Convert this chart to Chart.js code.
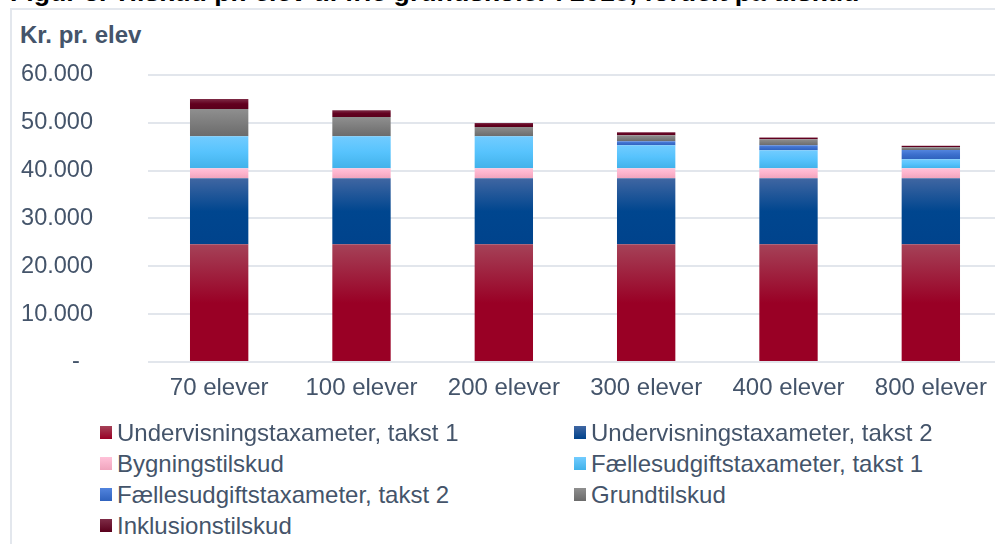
<!DOCTYPE html>
<html><head><meta charset="utf-8">
<script src="https://cdn.jsdelivr.net/npm/chart.js@4.4.1/dist/chart.umd.min.js"></script>
<style>
html,body{margin:0;padding:0;width:995px;height:544px;overflow:hidden;background:#fff;font-family:'Liberation Sans',Arial,sans-serif;}
#frame{position:absolute;left:10px;top:8px;width:1000px;height:600px;border-left:2px solid #e3e7ed;border-top:2px solid #e3e7ed;}
#title{position:absolute;left:10px;top:-21px;font-weight:bold;font-size:26.7px;line-height:26px;color:#000;white-space:nowrap;}
#ytitle{position:absolute;left:20px;top:23px;font-weight:bold;font-size:24px;line-height:24px;color:#44546a;white-space:nowrap;}
#wrap{position:absolute;left:0;top:0;width:1010px;height:431px;}
.leg{position:absolute;font-size:24px;line-height:24px;color:#44546a;white-space:nowrap;}
.leg i{position:absolute;left:-17px;top:5px;width:12px;height:13px;}
</style></head>
<body>
<div id="frame"></div>
<div id="title">Figur 3. Tilskud pr. elev til frie grundskoler i 2018, fordelt på tilskud</div>
<div id="ytitle">Kr. pr. elev</div>
<div id="wrap"><canvas id="c"></canvas></div>
<div id="legend"></div>
<script>
const categories = ['70 elever','100 elever','200 elever','300 elever','400 elever','800 elever'];
const seriesNames = ['Undervisningstaxameter, takst 1','Undervisningstaxameter, takst 2','Bygningstilskud','Fællesudgiftstaxameter, takst 1','Fællesudgiftstaxameter, takst 2','Grundtilskud','Inklusionstilskud'];
const undervisning1 = [24600,24600,24600,24600,24600,24600];
const undervisning2 = [13800,13800,13800,13800,13800,13800];
const bygning = [2100,2100,2100,2100,2100,2100];
const faelles1 = [6700,6700,6700,4800,3750,1900];
const faelles2 = [0,0,0,850,1050,1900];
const grund = [5700,4000,1950,1250,1250,600];
const inklusion = [2100,1450,800,650,400,300];
const yTicks = [0,10000,20000,30000,40000,50000,60000];

const seriesData = [undervisning1,undervisning2,bygning,faelles1,faelles2,grund,inklusion];
const palettes = [
  ['#a54258','#990025','#990025'],
  ['#4066a2','#00468f','#00438c'],
  ['#ffc2d9','#fdb3cc','#f0a4bd'],
  ['#72ccff','#57c3fd','#41b2ea'],
  ['#5284de','#3c6fcd','#2f62bd'],
  ['#8f8f8f','#7d7d7d','#6b6b6b'],
  ['#7e2c47','#62001f','#5a001c']
];

function grad(p){
  return function(ctx){
    if(ctx.type !== 'data') return p[1];
    const chart = ctx.chart;
    if(!chart.chartArea || !chart.scales.y) return p[1];
    const di = ctx.dataIndex, dsi = ctx.datasetIndex;
    let base = 0;
    for(let k=0;k<dsi;k++) base += chart.data.datasets[k].data[di];
    const v = chart.data.datasets[dsi].data[di];
    const top = chart.scales.y.getPixelForValue(base+v);
    const bot = chart.scales.y.getPixelForValue(base);
    if(!(bot-top>0.5)) return p[1];
    const g = chart.ctx.createLinearGradient(0,top,0,bot);
    g.addColorStop(0,p[0]); g.addColorStop(0.5,p[1]); g.addColorStop(1,p[2]);
    return g;
  };
}

function fmt(v){
  if(v===0) return '-\u2007';
  return String(v).replace(/\B(?=(\d{3})+(?!\d))/g,'.');
}

const datasets = seriesNames.map((n,i)=>({
  label:n, data:seriesData[i], backgroundColor:grad(palettes[i]), borderWidth:0,
  barPercentage:0.41, categoryPercentage:1
}));

new Chart(document.getElementById('c'),{
  type:'bar',
  data:{labels:categories,datasets},
  options:{
    responsive:true, maintainAspectRatio:false, animation:false,
    layout:{padding:{left:21,right:8,top:75,bottom:0}},
    plugins:{legend:{display:false},tooltip:{enabled:false}},
    scales:{
      x:{stacked:true,grid:{display:false,drawTicks:false},border:{display:false},
         afterFit:(s)=>{s.height=52;},
         ticks:{color:'#44546a',font:{family:"'Liberation Sans', Arial, sans-serif",size:24},padding:12,maxRotation:0}},
      y:{stacked:true,min:0,max:60000,
         afterBuildTicks:(s)=>{s.ticks=yTicks.map(v=>({value:v}));},
         afterFit:(s)=>{s.width=127;},
         grid:{color:'#e2e6ec',lineWidth:2,drawTicks:false},border:{display:false},
         ticks:{color:'#44546a',font:{family:"'Liberation Sans', Arial, sans-serif",size:23.5},padding:55,callback:(v)=>fmt(v)}}
    }
  }
});

const legPos = [[117,421],[591,421],[117,452],[591,452],[117,483],[591,483],[117,514]];
const leg = document.getElementById('legend');
seriesNames.forEach((n,i)=>{
  const d=document.createElement('div'); d.className='leg';
  d.style.left=legPos[i][0]+'px'; d.style.top=legPos[i][1]+'px';
  const m=document.createElement('i');
  m.style.background='linear-gradient('+palettes[i][0]+','+palettes[i][2]+')';
  d.appendChild(m); d.appendChild(document.createTextNode(n));
  leg.appendChild(d);
});
</script>
</body></html>
